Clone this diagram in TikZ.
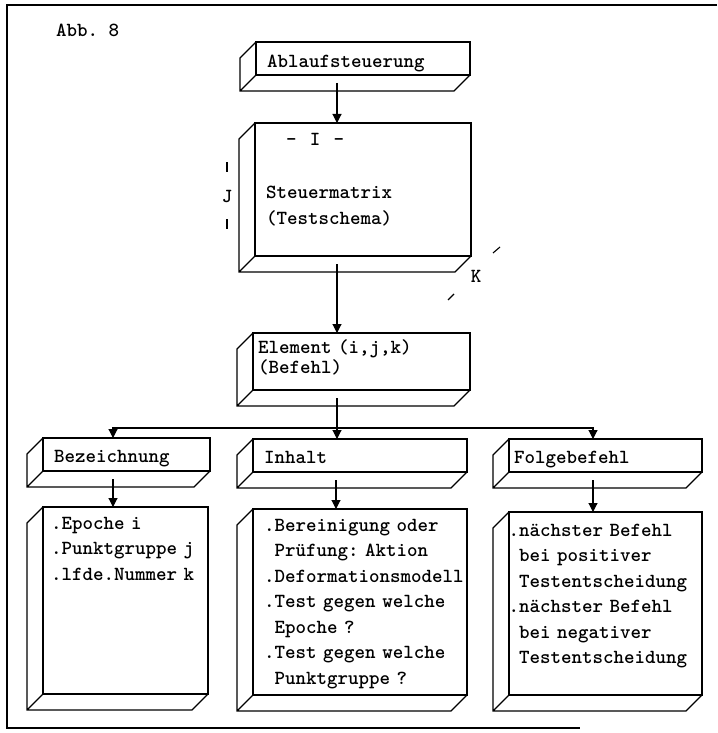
\documentclass[tikz,border=0pt]{standalone}
\usepackage{tikz}
\usetikzlibrary{positioning,calc,arrows.meta}

\newcommand\machinefont{\ttfamily\bfseries\fontsize{20}{25.5}\selectfont\frenchspacing}

\begin{document}
\begin{tikzpicture}[x=1pt,y=-1pt,
    prism/.style={draw,line width=1.3pt,rectangle,anchor=north west,align=left,
      inner xsep=11pt,inner ysep=0pt,outer sep=0pt,font=\machinefont},
    header/.style={prism,text height=24pt,text depth=9pt},
    flow/.style={-{Triangle[length=9pt,width=9pt]},line width=1.1pt},
    tick/.style={line width=1.1pt},
    frame/.style={line width=1.2pt}]
  \useasboundingbox (0,0) rectangle (717,733);

  \draw[frame] (717,5) -- (7,5) -- (7,728) -- (580,728);
  \node[font=\machinefont,anchor=base west,inner sep=0pt] (abb) at (56,37) {Abb. 8};

  % upper column
  \node[prism,text width=192pt,text height=26pt,text depth=7pt] (abl) at (256,42) {Ablaufsteuerung};
  \node[prism,text width=194pt,text height=22pt,text depth=111pt] (steu) at (255,123)
    {~~~-~~I~~-\\[28pt]Steuermatrix\\(Testschema)};
  \node[prism,inner xsep=5pt,text width=207pt,text height=20pt,text depth=37pt] (elem) at (253,333)
    {Element (i,j,k)\\[-5pt](Befehl)};

  % axes of the matrix
  \node[font=\machinefont,inner sep=0pt] (jlab) at (227,196) {J};
  \node[font=\machinefont,inner sep=0pt] (klab) at (476,276) {K};
  \draw[tick] ($(jlab)+(0,-34)$) -- ++(0,10);
  \draw[tick] ($(jlab)+(0,23)$) -- ++(0,10);
  \draw[tick] ($(klab)+(17,-23)$) -- ++(7,-6);
  \draw[tick] ($(klab)+(-28,24)$) -- ++(6,-6);

  % three parts of an element
  \node[header,text width=145pt] (bez) at (43,438) {Bezeichnung};
  \node[header,text width=192pt] (inh) at (253,439) {Inhalt};
  \node[header,inner xsep=5pt,text width=183pt] (folg) at (509,439) {Folgebefehl};

  \node[prism,inner xsep=8pt,text width=149pt,text height=22pt,text depth=165pt,
    below=36pt of bez.south west,anchor=north west] (bezc)
    {.Epoche i\\.Punktgruppe j\\.lfde.Nummer k};
  \node[prism,text width=192pt,text height=22pt,text depth=164pt,
    below=37pt of inh.south west,anchor=north west] (inhc)
    {.Bereinigung oder\\\phantom{.}Prüfung: Aktion\\\mbox{.Deformationsmodell}\\.Test gegen welche\\\phantom{.}Epoche ?\\.Test gegen welche\\\phantom{.}Punktgruppe ?};
  \node[prism,inner xsep=10pt,text width=173pt,text height=24pt,text depth=159pt,
    below=40pt of folg.south west,anchor=north west] (folgc)
    {\leavevmode\llap{.}nächster Befehl\\bei positiver\\Testentscheidung\\\leavevmode\llap{.}nächster Befehl\\bei negativer\\Testentscheidung};

  % depth of the boxes
  \foreach \b in {abl,steu,elem,bez,inh,folg,bezc,inhc,folgc}
    \draw[line width=1.3pt] (\b.north west) -- ++(-16,16) |- ($(\b.south east)+(-16,16)$)
      -- (\b.south east) (\b.south west) -- ++(-16,16);

  % arrows
  \draw[flow] ($(abl.south west)+(81,8)$) -- ($(steu.north west)+(82,0)$);
  \draw[flow] ($(steu.south west)+(82,8)$) -- ($(elem.north west)+(84,0)$);
  \coordinate (split) at ($(elem.south west)+(84,38)$);
  \draw[flow] ($(elem.south west)+(84,8)$) -- ($(inh.north west)+(84,0)$);
  \draw[flow] (split) -| ($(bez.north west)+(70,0)$);
  \draw[flow] (split) -| ($(folg.north west)+(84,0)$);
  \draw[flow] ($(bez.south west)+(70,8)$) -- ($(bezc.north west)+(70,0)$);
  \draw[flow] ($(inh.south west)+(83,8)$) -- ($(inhc.north west)+(83,0)$);
  \draw[flow] ($(folg.south west)+(84,8)$) -- ($(folgc.north west)+(84,0)$);
\end{tikzpicture}
\end{document}
